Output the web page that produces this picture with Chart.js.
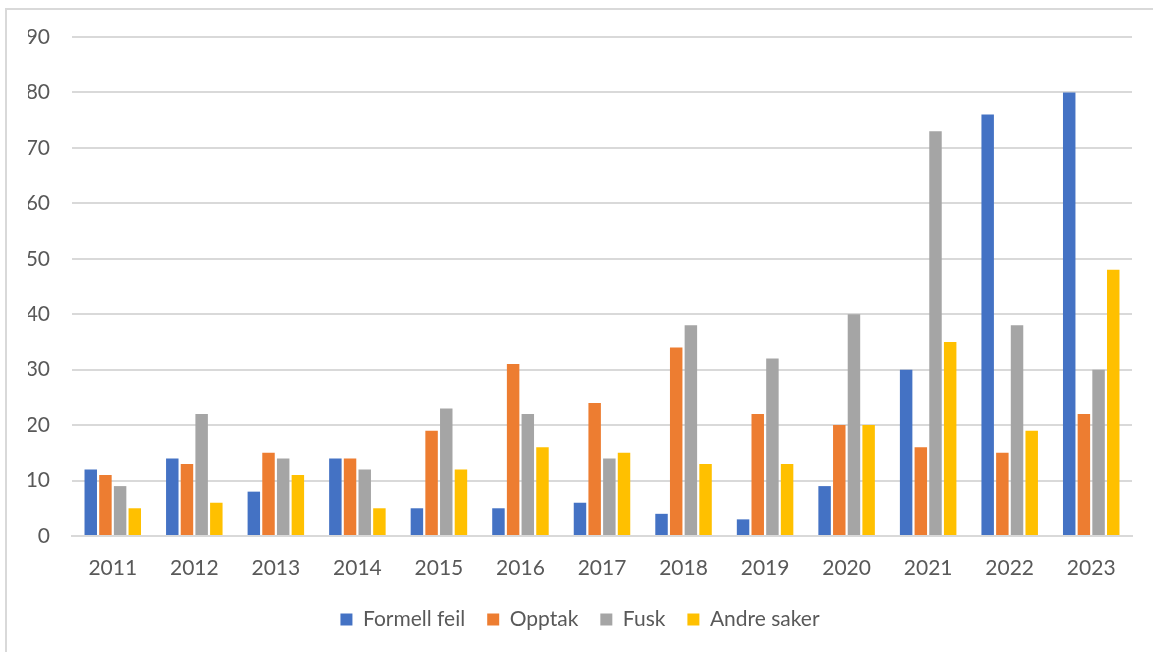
<!DOCTYPE html>
<html>
<head>
<meta charset="utf-8">
<script src="https://cdn.jsdelivr.net/npm/chart.js@4/dist/chart.umd.min.js"></script>
<style>
  html, body { margin: 0; padding: 0; background: #fff; overflow: hidden; }
  #ramme {
    position: absolute; left: 5px; top: 8px; width: 1200px; height: 700px;
    border-top: 2px solid #d9d9d9; border-left: 2px solid #d9d9d9;
  }
  #wrap { position: absolute; left: 0; top: 0; width: 1153px; height: 652px; }
</style>
</head>
<body>
<div id="ramme"></div>
<div id="wrap"><canvas id="myChart" width="1153" height="652"></canvas></div>
<script>
const aar = ["2011", "2012", "2013", "2014", "2015", "2016", "2017", "2018", "2019", "2020", "2021", "2022", "2023"];
const formellFeil = [12, 14, 8, 14, 5, 5, 6, 4, 3, 9, 30, 76, 80];
const opptak = [11, 13, 15, 14, 19, 31, 24, 34, 22, 20, 16, 15, 22];
const fusk = [9, 22, 14, 12, 23, 22, 14, 38, 32, 40, 73, 38, 30];
const andreSaker = [5, 6, 11, 5, 12, 16, 15, 13, 13, 20, 35, 19, 48];
const yTicks = [0, 10, 20, 30, 40, 50, 60, 70, 80, 90];

document.addEventListener("DOMContentLoaded", function () {
    const ctx = document.getElementById("myChart").getContext("2d");

    const serie = (label, data, farge) => ({
        label: label,
        data: data,
        backgroundColor: farge,
        borderWidth: 0,
        barPercentage: 0.85,
        categoryPercentage: 0.72,
    });

    new Chart(ctx, {
        type: "bar",
        data: {
            labels: aar,
            datasets: [
                serie("Formell feil", formellFeil, "#4472C4"),
                serie("Opptak", opptak, "#ED7D31"),
                serie("Fusk", fusk, "#A5A5A5"),
                serie("Andre saker", andreSaker, "#FFC000"),
            ],
        },
        options: {
            responsive: false,
            animation: false,
            layout: { padding: { left: 28, right: 21, top: 37, bottom: 12 } },
            plugins: {
                tooltip: { enabled: false },
                legend: {
                    position: "bottom",
                    labels: {
                        boxWidth: 12,
                        boxHeight: 12,
                        padding: 22,
                        color: "#595959",
                        font: { family: "Lato", size: 21 },
                    },
                },
            },
            scales: {
                x: {
                    grid: { display: false, drawTicks: false },
                    border: { color: "#d9d9d9", width: 2 },
                    ticks: { color: "#595959", padding: 20, font: { family: "Lato", size: 21 } },
                    afterFit: s => { s.height = 51; },
                },
                y: {
                    min: 0,
                    max: 90,
                    afterBuildTicks: s => { s.ticks = yTicks.map(v => ({ value: v })); },
                    grid: { color: "#d9d9d9", lineWidth: 2, drawTicks: false },
                    border: { display: false },
                    ticks: { color: "#595959", padding: 22, font: { family: "Lato", size: 21 } },
                    afterFit: s => { s.width = 44; },
                },
            },
        },
    });
});
</script>
</body>
</html>
